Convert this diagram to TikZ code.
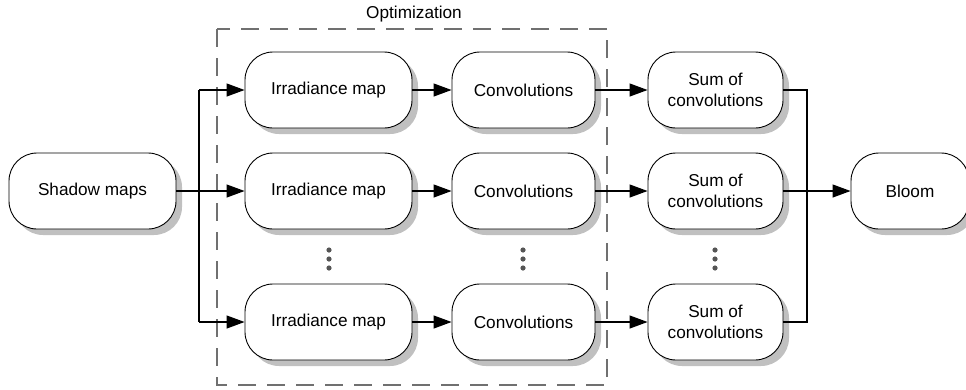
\documentclass[tikz,border=0pt]{standalone}
\usepackage{fontspec}
\setmainfont{Liberation Sans}
\usetikzlibrary{arrows.meta,shadows}
\definecolor{shadowgray}{HTML}{C0C0C0}
\definecolor{dashgray}{HTML}{707070}
\definecolor{dotgray}{HTML}{555555}
\tikzset{
  box/.style={draw=black, line width=0.9pt, fill=white, rounded corners=28pt,
    minimum height=76pt, inner sep=0pt, align=center,
    font=\fontsize{17.2}{20.5}\selectfont,
    drop shadow={shadow xshift=6pt, shadow yshift=-6pt, fill=shadowgray, opacity=1}},
  conn/.style={line width=1.2pt, draw=black},
  arr/.style={conn, -{Triangle[length=18pt,width=13pt]}},
  optframe/.style={draw=dashgray, line width=1.2pt, dash pattern=on 18pt off 11pt},
  dotmark/.style={fill=dotgray}
}
\begin{document}
\begin{tikzpicture}[x=1pt,y=-1pt]
\useasboundingbox (0,0) rectangle (966,389);
% dashed optimization frame
\draw[optframe] (217,29) rectangle (607,385);
\node[font=\fontsize{17.2}{20.5}\selectfont] (opt) at (414,14) {Optimization};
% boxes
\node[box, minimum width=167pt] (shadow) at (92.5,191) {Shadow maps};
\node[box, minimum width=167pt] (irr1) at (328.5,90) {Irradiance map};
\node[box, minimum width=167pt] (irr2) at (328.5,191) {Irradiance map};
\node[box, minimum width=167pt] (irr3) at (328.5,322) {Irradiance map};
\node[box, minimum width=143pt] (conv1) at (523.5,90) {Convolutions};
\node[box, minimum width=143pt] (conv2) at (523.5,191) {Convolutions};
\node[box, minimum width=143pt] (conv3) at (523.5,322) {Convolutions};
\node[box, minimum width=135pt] (sum1) at (715.5,90) {Sum of\\convolutions};
\node[box, minimum width=135pt] (sum2) at (715.5,191) {Sum of\\convolutions};
\node[box, minimum width=135pt] (sum3) at (715.5,322) {Sum of\\convolutions};
\node[box, minimum width=118pt] (bloom) at (910,191) {Bloom};
% vertical ellipses
\foreach \cx in {329,523,715}{
  \foreach \cy in {250,259,268}{
    \fill[dotmark] (\cx,\cy) circle (2.6pt);
  }
}
% fork and join coordinates
\coordinate (fork) at (199,191);
\coordinate (join) at (807,191);
% connectors
\draw[conn] (fork |- irr1.west) -- (fork |- irr3.west);
\draw[arr] (fork |- irr1.west) -- (irr1.west);
\draw[arr] (shadow.east) -- (irr2.west);
\draw[arr] (fork |- irr3.west) -- (irr3.west);
\draw[arr] (irr1.east) -- (conv1.west);
\draw[arr] (irr2.east) -- (conv2.west);
\draw[arr] (irr3.east) -- (conv3.west);
\draw[arr] (conv1.east) -- (sum1.west);
\draw[arr] (conv2.east) -- (sum2.west);
\draw[arr] (conv3.east) -- (sum3.west);
\draw[conn] (sum1.east) -- (join |- sum1.east) -- (join |- sum3.east) -- (sum3.east);
\draw[arr] (sum2.east) -- (bloom.west);
\end{tikzpicture}
\end{document}
